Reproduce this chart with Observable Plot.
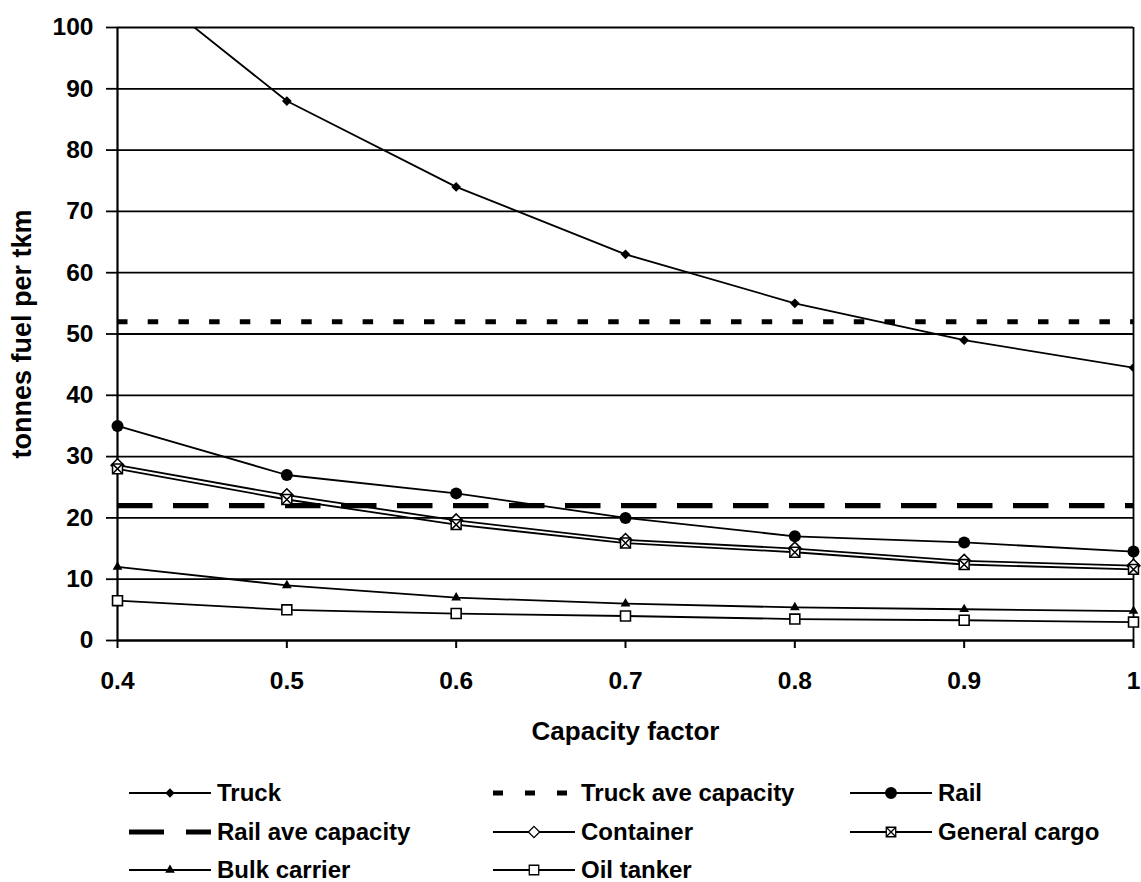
<!DOCTYPE html>
<html>
<head>
<meta charset="utf-8">
<script src="https://cdn.jsdelivr.net/npm/d3@7"></script>
<script src="https://cdn.jsdelivr.net/npm/@observablehq/plot@0.6"></script>
<style>
  html, body { margin: 0; padding: 0; background: #fff; }
  #wrap { position: relative; width: 1141px; height: 882px; font-family: "Liberation Sans", Arial, sans-serif; font-weight: bold; }
  .lg { position: absolute; display: flex; align-items: center; height: 30px; font-size: 24px; color: #000; white-space: nowrap; }
  .lg svg { display: block; margin-right: 6px; }
</style>
</head>
<body>
<div id="wrap"></div>
<script>
// ---- data ----
const capacityFactor = [0.4, 0.5, 0.6, 0.7, 0.8, 0.9, 1.0];
const truck        = [110, 88, 74, 63, 55, 49, 44.5];
const rail         = [35, 27, 24, 20, 17, 16, 14.5];
const container    = [28.6, 23.7, 19.6, 16.4, 15.0, 13.0, 12.2];
const generalCargo = [28.0, 23.0, 18.9, 15.9, 14.4, 12.4, 11.6];
const bulkCarrier  = [12, 9, 7, 6, 5.4, 5.1, 4.8];
const oilTanker    = [6.5, 5, 4.4, 4.0, 3.5, 3.3, 3.0];
const truckAveCapacity = 52;
const railAveCapacity = 22;
const yTicks = [0, 10, 20, 30, 40, 50, 60, 70, 80, 90, 100];
const xTicks = [0.4, 0.5, 0.6, 0.7, 0.8, 0.9, 1.0];
const seriesNames = ["Truck", "Rail", "Container", "General cargo", "Bulk carrier", "Oil tanker"];
const seriesValues = [truck, rail, container, generalCargo, bulkCarrier, oilTanker];

const rows = seriesNames.flatMap((name, i) =>
  capacityFactor.map((cf, j) => ({name, cf, v: seriesValues[i][j]})));
const pick = name => rows.filter(d => d.name === name);

const W = 1141, H = 760;
const chart = Plot.plot({
  width: W, height: H,
  marginLeft: 117, marginRight: 8, marginTop: 27, marginBottom: H - 640,
  style: {fontFamily: "'Liberation Sans', Arial, sans-serif", fontSize: "24.5px", fontWeight: "bold", color: "black", background: "white"},
  x: {domain: [0.4, 1], label: null},
  y: {domain: [0, 100], label: null},
  marks: [
    Plot.gridY(yTicks, {stroke: "black", strokeOpacity: 1, strokeWidth: 1.8}),
    Plot.axisY({ticks: yTicks, tickSize: 11, tickPadding: 13, stroke: "black", strokeWidth: 1.8, label: null}),
    Plot.axisX({ticks: xTicks, tickSize: 8, tickPadding: 23, tickFormat: d => d === 1 ? "1" : String(d), stroke: "black", strokeWidth: 2, label: null}),
    Plot.ruleX([0.4], {stroke: "black", strokeWidth: 2.2}),
    Plot.ruleX([1], {stroke: "black", strokeWidth: 1.8}),
    Plot.ruleY([0], {stroke: "black", strokeWidth: 2.2}),
    Plot.ruleY([truckAveCapacity], {stroke: "black", strokeWidth: 5, strokeDasharray: "10.5,20.2", strokeLinecap: "butt"}),
    Plot.ruleY([railAveCapacity], {stroke: "black", strokeWidth: 5.3, strokeDasharray: "35.5,20.5", strokeLinecap: "butt"}),
    Plot.line(rows, {x: "cf", y: "v", z: "name", stroke: "black", strokeWidth: 1.8, clip: true}),
    Plot.dot(pick("Truck"), {x: "cf", y: "v", symbol: "diamond2", r: 4.4, fill: "black", stroke: "none", clip: true}),
    Plot.dot(pick("Rail"), {x: "cf", y: "v", symbol: "circle", r: 6, fill: "black", stroke: "none"}),
    Plot.dot(pick("Container"), {x: "cf", y: "v", symbol: "diamond2", r: 5.8, fill: "white", stroke: "black", strokeWidth: 1.5}),
    Plot.dot(pick("General cargo"), {x: "cf", y: "v", symbol: "square", r: 5.6, fill: "white", stroke: "black", strokeWidth: 1.5}),
    Plot.dot(pick("General cargo"), {x: "cf", y: "v", symbol: "times", r: 4.6, stroke: "black", strokeWidth: 1.5}),
    Plot.dot(pick("Bulk carrier"), {x: "cf", y: "v", symbol: "triangle", r: 3.6, fill: "black", stroke: "none"}),
    Plot.dot(pick("Oil tanker"), {x: "cf", y: "v", symbol: "square", r: 5.6, fill: "white", stroke: "black", strokeWidth: 1.6}),
    Plot.text(["tonnes fuel per tkm"], {frameAnchor: "left", textAnchor: "middle", dx: -95, rotate: -90, fontSize: 27, fontWeight: "bold", fill: "black"}),
    Plot.text(["Capacity factor"], {frameAnchor: "bottom", textAnchor: "middle", dy: 99, fontSize: 26, fontWeight: "bold", fill: "black"})
  ]
});
const wrap = document.getElementById("wrap");
wrap.appendChild(chart);

// ---- legend ----
const legendItems = [
  {label: "Truck", kind: "line", sym: d3.symbolDiamond2, size: 55, fill: "black"},
  {label: "Truck ave capacity", kind: "dash", dash: "10,22", sw: 5},
  {label: "Rail", kind: "line", sym: d3.symbolCircle, size: 113, fill: "black"},
  {label: "Rail ave capacity", kind: "dash", dash: "35,22", sw: 5},
  {label: "Container", kind: "line", sym: d3.symbolDiamond2, size: 80, fill: "white", stroke: "black"},
  {label: "General cargo", kind: "line", sym: d3.symbolSquare, size: 90, fill: "white", stroke: "black", cross: true},
  {label: "Bulk carrier", kind: "line", sym: d3.symbolTriangle, size: 40, fill: "black"},
  {label: "Oil tanker", kind: "line", sym: d3.symbolSquare, size: 90, fill: "white", stroke: "black"}
];
const colX = [129, 493, 850];
const rowY = [793, 832, 870];
legendItems.forEach((it, i) => {
  const c = i % 3, r = Math.floor(i / 3);
  const div = document.createElement("div");
  div.className = "lg";
  div.style.left = colX[c] + "px";
  div.style.top = (rowY[r] - 15) + "px";
  const svg = d3.create("svg").attr("width", 82).attr("height", 20);
  if (it.kind === "dash") {
    svg.append("line").attr("x1", 0).attr("x2", 82).attr("y1", 10).attr("y2", 10)
      .attr("stroke", "black").attr("stroke-width", it.sw).attr("stroke-dasharray", it.dash);
  } else {
    svg.append("line").attr("x1", 0).attr("x2", 82).attr("y1", 10).attr("y2", 10)
      .attr("stroke", "black").attr("stroke-width", 1.8);
    svg.append("path").attr("transform", "translate(41,10)")
      .attr("d", d3.symbol(it.sym, it.size)())
      .attr("fill", it.fill).attr("stroke", it.stroke || "none").attr("stroke-width", 1.3);
    if (it.cross) {
      svg.append("path").attr("transform", "translate(41,10)")
        .attr("d", d3.symbol(d3.symbolTimes, 50)())
        .attr("fill", "none").attr("stroke", "black").attr("stroke-width", 1.3);
    }
  }
  div.appendChild(svg.node());
  const span = document.createElement("span");
  span.textContent = it.label;
  div.appendChild(span);
  wrap.appendChild(div);
});
</script>
</body>
</html>
